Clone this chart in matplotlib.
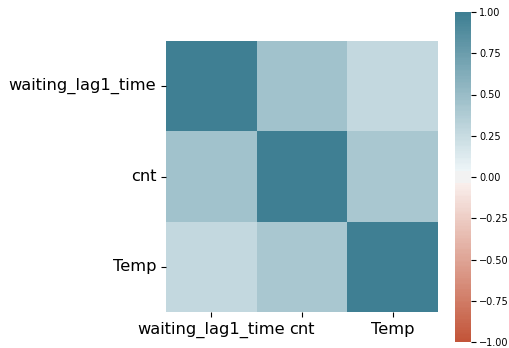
import colorsys
import numpy as np
import pandas as pd
import matplotlib
matplotlib.use("Agg")
import matplotlib.pyplot as plt
from matplotlib.colors import LinearSegmentedColormap, ListedColormap
import seaborn as sns
from seaborn.external import husl

# === DADOS ===
variaveis = ["waiting_lag1_time", "cnt", "Temp"]
corr_valores = [
    [1.00, 0.45, 0.27],
    [0.45, 1.00, 0.41],
    [0.27, 0.41, 1.00],
]
corr = pd.DataFrame(corr_valores, index=variaveis, columns=variaveis)


# --- Paleta divergente (estilo seaborn antigo: extremos claros levemente coloridos) ---
def paleta_antiga(h_neg, h_pos, s=75, l=50, sep=10, n=200):
    def clara(h):
        rgb = husl.husl_to_rgb(h, s, l)
        hh, _, ss = colorsys.rgb_to_hls(*rgb)
        return rgb, colorsys.hls_to_rgb(hh, 0.95, ss)

    n_half = int(128 - sep // 2)
    c_neg, l_neg = clara(h_neg)
    c_pos, l_pos = clara(h_pos)
    neg = LinearSegmentedColormap.from_list("n", [c_neg, l_neg])(np.linspace(0, 1, n_half))
    pos = LinearSegmentedColormap.from_list("p", [l_pos, c_pos])(np.linspace(0, 1, n_half))
    mid = np.array([[.95, .95, .95, 1.0]] * sep)
    cores = np.concatenate([neg, mid, pos])
    cm = LinearSegmentedColormap.from_list("b", cores)
    return ListedColormap(cm(np.linspace(0, 1, n)))


cmap = paleta_antiga(20, 220, n=200)

# --- Figura ---
fig = plt.figure(figsize=(5.09, 3.48), dpi=100)
ax = fig.add_axes([166/509, 36/348, 272/509, 271/348])
cax = fig.add_axes([455/509, 6/348, 16/509, 330/348])

sns.heatmap(corr, vmin=-1, vmax=1, center=0, cmap=cmap, square=False,
            ax=ax, cbar_ax=cax)

ax.set_xticklabels(variaveis, rotation=0, fontsize=11.7)
ax.set_yticklabels(variaveis, rotation=0, fontsize=11.7)
cax.tick_params(labelsize=7, pad=2.5, length=3.5)
for s in cax.spines.values():
    s.set_visible(False)

fig.savefig("out.png", dpi=100)
